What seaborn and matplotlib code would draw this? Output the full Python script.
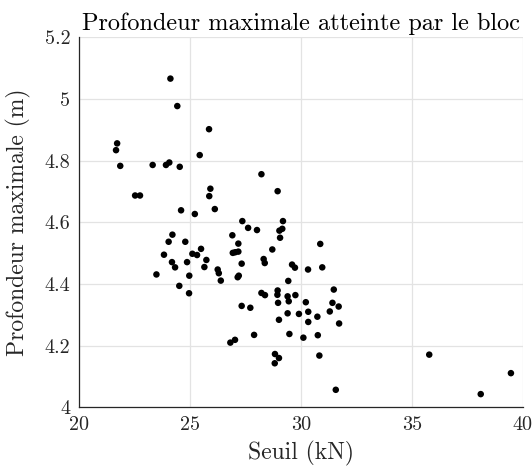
import matplotlib
matplotlib.use("Agg")
import matplotlib.pyplot as plt
import seaborn as sns
import pandas as pd

# Threshold force (kN) and maximum depth reached by the block (m)
seuil = [
    24.13, 24.44, 25.87, 21.73, 21.68, 21.87, 23.33, 23.93, 24.08, 24.55,
    25.45, 28.23, 28.96, 22.54, 22.76, 25.93, 25.88, 26.13, 24.61, 25.23,
    27.37, 29.20, 27.63, 28.03, 29.04, 29.17, 29.07, 26.92, 27.19, 26.94,
    27.05, 27.19, 27.34, 27.16, 27.21, 28.72, 28.33, 28.38, 29.61, 29.74,
    30.33, 29.44, 28.23, 28.39, 28.96, 28.95, 28.98, 29.41, 29.46, 29.76,
    30.23, 29.41, 29.92, 30.34, 30.34, 29.02, 27.34, 27.73, 29.49, 30.12,
    27.90, 26.83, 27.04, 28.84, 29.02, 28.83, 23.50, 23.84, 24.05, 24.22,
    24.20, 24.34, 24.80, 24.53, 24.88, 24.98, 24.97, 25.12, 25.33, 25.51,
    25.75, 25.66, 26.26, 26.31, 26.40, 30.88, 30.97, 31.49, 31.43, 31.71,
    31.31, 30.75, 31.73, 30.77, 30.84, 31.58, 35.79, 39.47, 38.11,
]
profondeur = [
    5.066, 4.977, 4.902, 4.856, 4.834, 4.783, 4.786, 4.786, 4.794, 4.780,
    4.818, 4.756, 4.701, 4.687, 4.687, 4.709, 4.685, 4.643, 4.639, 4.627,
    4.604, 4.604, 4.582, 4.575, 4.573, 4.579, 4.550, 4.558, 4.531, 4.501,
    4.503, 4.505, 4.466, 4.422, 4.427, 4.512, 4.481, 4.468, 4.463, 4.453,
    4.447, 4.410, 4.371, 4.364, 4.379, 4.365, 4.339, 4.360, 4.344, 4.364,
    4.341, 4.305, 4.303, 4.310, 4.277, 4.284, 4.329, 4.323, 4.238, 4.226,
    4.235, 4.210, 4.219, 4.173, 4.160, 4.143, 4.431, 4.495, 4.537, 4.560,
    4.471, 4.454, 4.537, 4.394, 4.471, 4.427, 4.370, 4.498, 4.494, 4.514,
    4.478, 4.455, 4.447, 4.435, 4.411, 4.530, 4.454, 4.382, 4.339, 4.327,
    4.311, 4.294, 4.272, 4.234, 4.168, 4.057, 4.171, 4.111, 4.043,
]

x_ticks = [20, 25, 30, 35, 40]
y_ticks = [4.0, 4.2, 4.4, 4.6, 4.8, 5.0, 5.2]
y_tick_labels = ["4", "4.2", "4.4", "4.6", "4.8", "5", "5.2"]

df = pd.DataFrame({"Seuil": seuil, "Profondeur": profondeur})

sns.set_style("white")
plt.rcParams["font.family"] = ["cmr10", "DejaVu Serif"]
plt.rcParams["axes.formatter.use_mathtext"] = True
plt.rcParams["mathtext.fontset"] = "cm"

axis_color = "#262626"

fig = plt.figure(figsize=(5.32, 4.66), dpi=100)
ax = fig.add_axes([0.148, 0.1258, 0.8345, 0.7942])

sns.scatterplot(data=df, x="Seuil", y="Profondeur", ax=ax,
                color="black", s=22, edgecolor="none", zorder=3)

ax.set_xlim(20, 40)
ax.set_ylim(4.0, 5.2)
ax.set_xticks(x_ticks)
ax.set_xticklabels([str(t) for t in x_ticks])
ax.set_yticks(y_ticks)
ax.set_yticklabels(y_tick_labels)

ax.grid(True, color="#e3e3e3", linewidth=0.9, zorder=0)
ax.set_axisbelow(True)

for side in ("top", "right"):
    ax.spines[side].set_visible(False)
for side in ("left", "bottom"):
    ax.spines[side].set_color(axis_color)
    ax.spines[side].set_linewidth(0.9)

ax.tick_params(axis="both", direction="in", length=4, width=0.8,
               color=axis_color, labelcolor=axis_color, labelsize=14.5)
ax.tick_params(axis="x", pad=6)
ax.tick_params(axis="y", pad=6)

ax.set_xlabel("Seuil (kN)", fontsize=17, color=axis_color, labelpad=5)
ax.set_ylabel("Profondeur maximale (m)", fontsize=17, color=axis_color, labelpad=10)
ax.set_title("Profondeur maximale atteinte par le bloc", fontsize=17.5,
             color="black", pad=5)

fig.savefig("out.png", dpi=100)
